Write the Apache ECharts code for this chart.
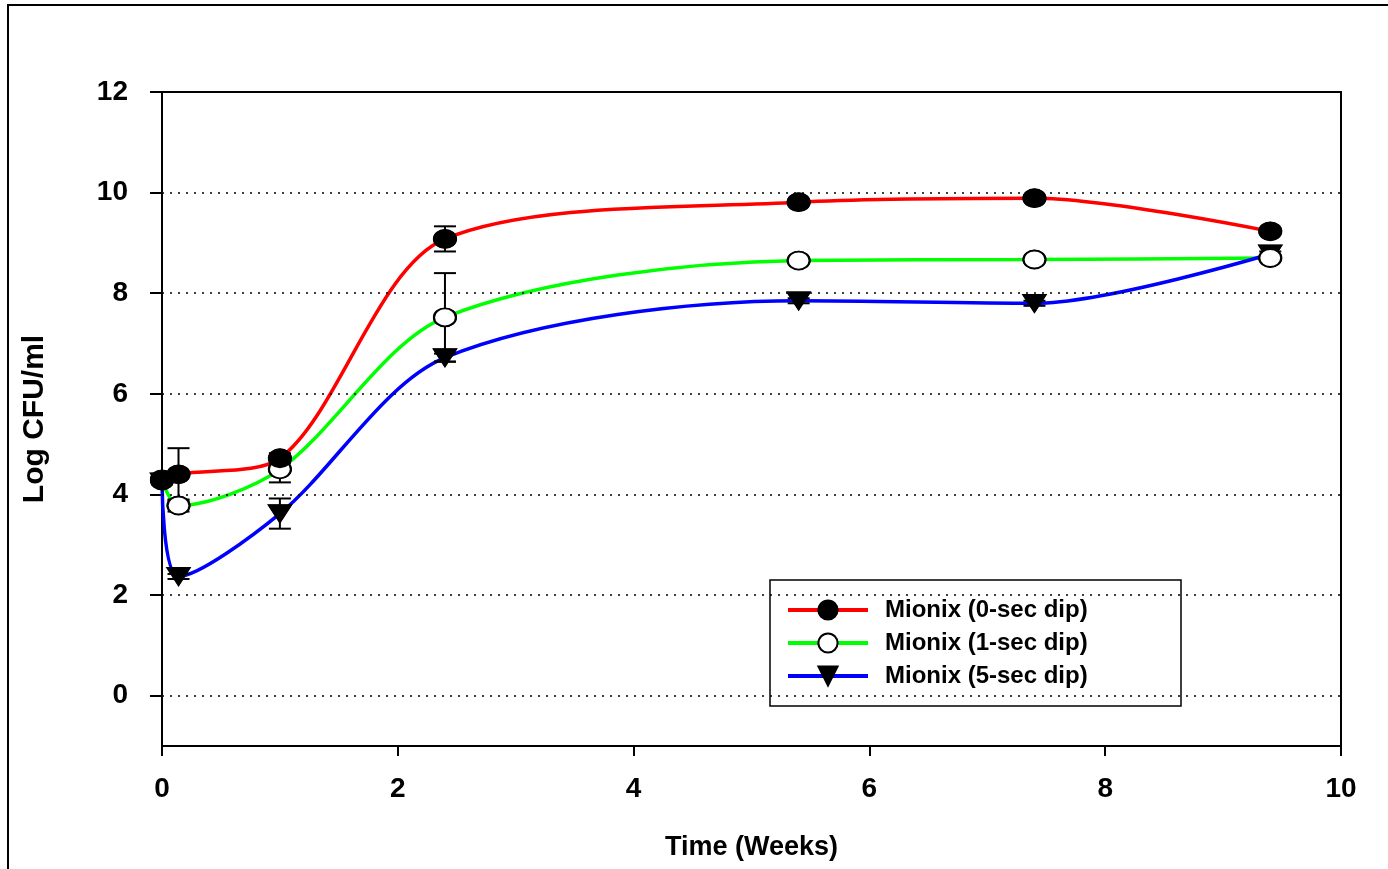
<!DOCTYPE html>
<html>
<head>
<meta charset="utf-8">
<script src="https://cdn.jsdelivr.net/npm/echarts@6/dist/echarts.min.js"></script>
<style>
html,body{margin:0;padding:0;background:#fff;}
#chart{width:1388px;height:869px;}
</style>
</head>
<body>
<div id="chart"></div>
<script>
// Time (weeks)
const weeks = [0, 0.14, 1, 2.4, 5.4, 7.4, 9.4];
// Log CFU/ml means
const dip0 = [4.30, 4.40, 4.72, 9.08, 9.81, 9.89, 9.23];
const dip1 = [4.28, 3.78, 4.50, 7.52, 8.65, 8.67, 8.70];
const dip5 = [4.25, 2.37, 3.62, 6.72, 7.85, 7.80, 8.78];
// error (± half-range)
const err0 = [0.05, 0.52, 0.10, 0.25, 0.05, 0.05, 0.05];
const err1 = [0.05, 0.12, 0.26, 0.88, 0.03, 0.03, 0.06];
const err5 = [0.05, 0.05, 0.30, 0.08, 0.05, 0.05, 0.05];
const seriesNames = ['Mionix (0-sec dip)', 'Mionix (1-sec dip)', 'Mionix (5-sec dip)'];
const yTicks = [0, 2, 4, 6, 8, 10, 12];
const gridValues = [0, 2, 4, 6, 8, 10];

const FONT = 'Liberation Sans, Arial, sans-serif';
const pts = (ys) => weeks.map((x, i) => [x, ys[i]]);
const errPts = (ys, es) => weeks.map((x, i) => [x, ys[i], es[i]]);

const colors = ['#ff0000', '#00ff00', '#0000ff'];
const symbols = ['circle', 'circle', 'triangle'];
const symSizes = [[22, 18], [22, 18], [22, 17]];
const symFill = ['#000', '#fff', '#000'];
const symRot = [0, 0, 180];
const means = [dip0, dip1, dip5];
const errs = [err0, err1, err5];

function errRender(params, api) {
  const x = api.value(0), y = api.value(1), e = api.value(2);
  const top = api.coord([x, y + e]);
  const bot = api.coord([x, y - e]);
  const hw = 11;
  const st = {stroke: '#000', lineWidth: 2};
  return {
    type: 'group',
    children: [
      {type: 'line', shape: {x1: top[0], y1: top[1], x2: bot[0], y2: bot[1]}, style: st},
      {type: 'line', shape: {x1: top[0] - hw, y1: top[1], x2: top[0] + hw, y2: top[1]}, style: st},
      {type: 'line', shape: {x1: bot[0] - hw, y1: bot[1], x2: bot[0] + hw, y2: bot[1]}, style: st}
    ]
  };
}

const series = [];
for (let k = 0; k < 3; k++) {
  const s = {
    name: seriesNames[k],
    type: 'line',
    data: pts(means[k]),
    smooth: 0.3,
    z: 2,
    lineStyle: {color: colors[k], width: 3.5},
    itemStyle: {color: symFill[k], borderColor: '#000', borderWidth: 1.5},
    symbol: symbols[k],
    symbolSize: symSizes[k],
    symbolRotate: symRot[k],
    showSymbol: true,
    animation: false
  };
  if (k === 0) {
    s.markLine = {
      silent: true,
      symbol: ['none', 'none'],
      label: {show: false},
      lineStyle: {color: '#000', type: [2, 6], width: 1.5},
      data: gridValues.map(v => ({yAxis: v}))
    };
  }
  series.push(s);
}
for (let k = 0; k < 3; k++) {
  series.push({
    name: seriesNames[k] + ' err',
    type: 'custom',
    renderItem: errRender,
    data: errPts(means[k], errs[k]),
    encode: {x: 0, y: 1},
    z: 3,
    silent: true,
    animation: false
  });
}
for (let k = 2; k >= 0; k--) {
  series.push({
    name: seriesNames[k] + ' pt',
    type: 'scatter',
    data: pts(means[k]),
    symbol: symbols[k],
    symbolSize: symSizes[k],
    symbolRotate: symRot[k],
    itemStyle: {color: symFill[k], borderColor: '#000', borderWidth: 2, opacity: 1},
    z: 4,
    silent: true,
    animation: false
  });
}

const chart = echarts.init(document.getElementById('chart'), null, {renderer: 'canvas'});
chart.setOption({
  animation: false,
  backgroundColor: '#fff',
  textStyle: {fontFamily: FONT},
  grid: {left: 162, right: 47, top: 92, bottom: 123, show: true, borderColor: '#000', borderWidth: 2, containLabel: false},
  legend: {
    data: seriesNames,
    orient: 'vertical',
    left: 786,
    top: 598,
    padding: 0,
    itemWidth: 80,
    itemHeight: 24,
    itemGap: 9,
    z: 6,
    lineStyle: {width: 4},
    textStyle: {fontFamily: FONT, fontWeight: 'bold', fontSize: 24, color: '#000', padding: [0, 0, 0, 12]},
    selectedMode: false
  },
  xAxis: {
    type: 'value',
    min: 0, max: 10, interval: 2,
    name: 'Time (Weeks)',
    nameLocation: 'middle',
    nameGap: 88,
    nameTextStyle: {fontFamily: FONT, fontWeight: 'bold', fontSize: 27, color: '#000'},
    axisLine: {show: true, onZero: false, lineStyle: {color: '#000', width: 2}},
    axisTick: {show: true, inside: false, length: 10, lineStyle: {color: '#000', width: 2}},
    axisLabel: {margin: 29, fontFamily: FONT, fontWeight: 'bold', fontSize: 28, color: '#000'},
    splitLine: {show: false}
  },
  yAxis: {
    type: 'value',
    min: -1, max: 12,
    name: 'Log CFU/ml',
    nameLocation: 'middle',
    nameGap: 112,
    nameTextStyle: {fontFamily: FONT, fontWeight: 'bold', fontSize: 30, color: '#000'},
    axisLine: {show: true, onZero: false, lineStyle: {color: '#000', width: 2}},
    axisTick: {show: true, inside: false, length: 12, customValues: yTicks, lineStyle: {color: '#000', width: 2}},
    axisLabel: {margin: 34, customValues: yTicks, fontFamily: FONT, fontWeight: 'bold', fontSize: 28, color: '#000'},
    splitLine: {show: false}
  },
  graphic: [
    {type: 'rect', shape: {x: 8, y: 5, width: 1500, height: 1000}, style: {fill: 'none', stroke: '#000', lineWidth: 2}, silent: true, z: 0},
    {type: 'rect', shape: {x: 770, y: 580, width: 411, height: 126}, style: {fill: '#fff', stroke: '#000', lineWidth: 1.5}, silent: true, z: 5}
  ],
  series: series
});
</script>
</body>
</html>
